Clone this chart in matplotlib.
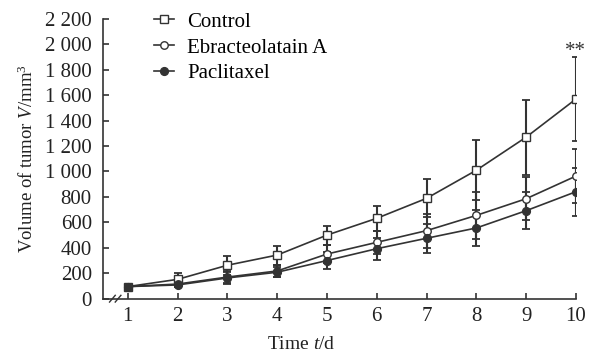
import numpy as np
import matplotlib.pyplot as plt
from matplotlib.ticker import FuncFormatter

plt.rcParams['font.family'] = ['Liberation Serif', 'DejaVu Serif']
plt.rcParams['mathtext.fontset'] = 'custom'
plt.rcParams['mathtext.rm'] = 'Liberation Serif'
plt.rcParams['mathtext.it'] = 'Liberation Serif:italic'

# data
days = [1, 2, 3, 4, 5, 6, 7, 8, 9, 10]
control = [95, 152, 263, 343, 500, 632, 789, 1010, 1270, 1570]
control_err = [10, 50, 75, 75, 75, 100, 150, 237, 295, 330]
ebra = [95, 115, 170, 218, 351, 443, 535, 655, 786, 964]
ebra_err = [8, 20, 45, 50, 70, 90, 134, 186, 170, 213]
pacli = [95, 108, 163, 208, 300, 393, 475, 556, 692, 841]
pacli_err = [8, 20, 45, 40, 70, 85, 113, 140, 147, 190]
y_ticks = [0, 200, 400, 600, 800, 1000, 1200, 1400, 1600, 1800, 2000, 2200]

col = '#333333'
fs = 15

fig = plt.figure(figsize=(5.95, 3.56), dpi=100)
ax = fig.add_axes([0.173, 0.161, 0.795, 0.786])

series = [
    (control, control_err, 's', 'white', 5.4, 'Control'),
    (ebra, ebra_err, 'o', 'white', 5.4, 'Ebracteolatain A'),
    (pacli, pacli_err, 'o', col, 5.6, 'Paclitaxel'),
]
for vals, err, mk, fc, ms, lab in series:
    ax.errorbar(days, vals, yerr=err, fmt='none', ecolor=col, elinewidth=1.5,
                capsize=3, capthick=1.3, zorder=2)
for vals, err, mk, fc, ms, lab in series:
    ax.plot(days, vals, color=col, lw=1.2, marker=mk, markersize=ms,
            markerfacecolor=fc, markeredgecolor=col, markeredgewidth=1.0,
            label=lab, zorder=3)

# significance mark above the last control error bar
ax.text(days[-1], control[-1] + control_err[-1] - 35, '**', ha='center',
        va='bottom', fontsize=fs, color=col)

ax.set_xlim(0.5, 10)
ax.set_ylim(0, 2200)
ax.set_xticks(days)
ax.set_yticks(y_ticks)
ax.yaxis.set_major_formatter(FuncFormatter(
    lambda v, p: f'{int(v):,}'.replace(',', ' ')))
ax.tick_params(direction='in', length=4, width=1.2, color=col,
               labelsize=fs, labelcolor='#222222')
ax.tick_params(axis='y', pad=8)
ax.tick_params(axis='x', pad=6)
for s in ['top', 'right']:
    ax.spines[s].set_visible(False)
for s in ['left', 'bottom']:
    ax.spines[s].set_color(col)
    ax.spines[s].set_linewidth(1.2)

# axis break marks
for dx in (0.0, 0.012):
    ax.plot([0.014 + dx, 0.026 + dx], [-0.012, 0.012], transform=ax.transAxes,
            color=col, lw=1.0, clip_on=False)

ax.set_xlabel('Time $t$/d', fontsize=14, color='#222222')
ax.xaxis.set_label_coords(0.419, -0.135)
ax.set_ylabel('Volume of tumor $V$/mm$^3$', fontsize=13.5, color='#222222')
ax.yaxis.set_label_coords(-0.14, 0.50)

fig.legend(loc='upper left', bbox_to_anchor=(0.2415, 0.995), frameon=False,
           fontsize=fs, borderpad=0, handlelength=0.96, handletextpad=0.64,
           labelspacing=0.3)

fig.savefig('out.png', dpi=100)
